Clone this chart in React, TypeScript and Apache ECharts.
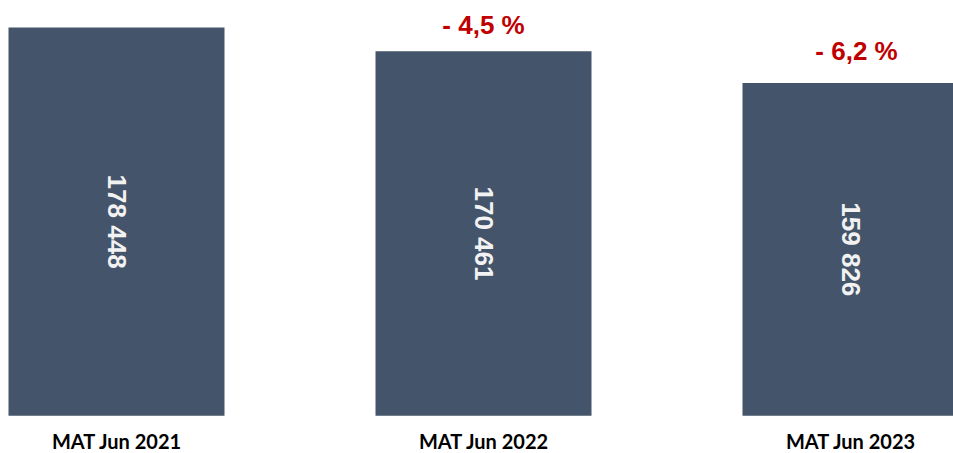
import React, { useEffect, useRef } from "react";
import * as echarts from "echarts";

const categories = ["MAT Jun 2021", "MAT Jun 2022", "MAT Jun 2023"];
const values = [178448, 170461, 159826];
const changeLabels = ["", "- 4,5 %", "- 6,2 %"];

const fmt = (v: number) => {
  const s = String(v);
  return s.replace(/\B(?=(\d{3})+(?!\d))/g, " ");
};

export default function App() {
  const ref = useRef<HTMLDivElement>(null);
  useEffect(() => {
    if (!ref.current) return;
    const chart = echarts.init(ref.current, undefined, { renderer: "svg" });
    chart.setOption({
      animation: false,
      backgroundColor: "#ffffff",
      grid: { left: 0, right: 0, top: 22.9, bottom: 37.3, containLabel: false },
      xAxis: {
        type: "category",
        data: categories,
        axisLine: { show: false },
        axisTick: { show: false },
        axisLabel: {
          margin: 17,
          lineHeight: 16,
          color: "#000000",
          fontFamily: "Lato",
          fontWeight: "bold",
          fontSize: 20,
          interval: 0,
        },
      },
      yAxis: {
        type: "value",
        min: 48000,
        max: 180000,
        show: false,
        splitLine: { show: false },
      },
      series: [
        {
          type: "bar",
          data: values,
          barWidth: 216,
          itemStyle: { color: "#44546A" },
          label: {
            show: true,
            position: "inside",
            rotate: -90,
            color: "#F2F2F2",
            fontFamily: "Liberation Sans, Arial, sans-serif",
            fontWeight: "bold",
            fontSize: 26,
            formatter: (p: any) => fmt(p.value),
          },
        },
        {
          type: "bar",
          data: values.map((v, i) => ({
            value: v,
            label: {
              formatter: changeLabels[i],
              offset: i === 2 ? [6, -5] : [0, 1],
            },
          })),
          barWidth: 216,
          barGap: "-100%",
          itemStyle: { color: "transparent" },
          silent: true,
          label: {
            show: true,
            position: "top",
            distance: 14,
            color: "#C00000",
            fontFamily: "Liberation Sans, Arial, sans-serif",
            fontWeight: "bold",
            fontSize: 26,
          },
        },
      ],
    });
    return () => chart.dispose();
  }, []);
  return (
    <div
      style={{
        position: "fixed",
        left: 0,
        top: 0,
        width: 953,
        height: 453,
        overflow: "hidden",
        background: "#ffffff",
      }}
    >
      <div
        ref={ref}
        style={{ position: "absolute", left: -67, top: 0, width: 1101, height: 453 }}
      />
    </div>
  );
}
